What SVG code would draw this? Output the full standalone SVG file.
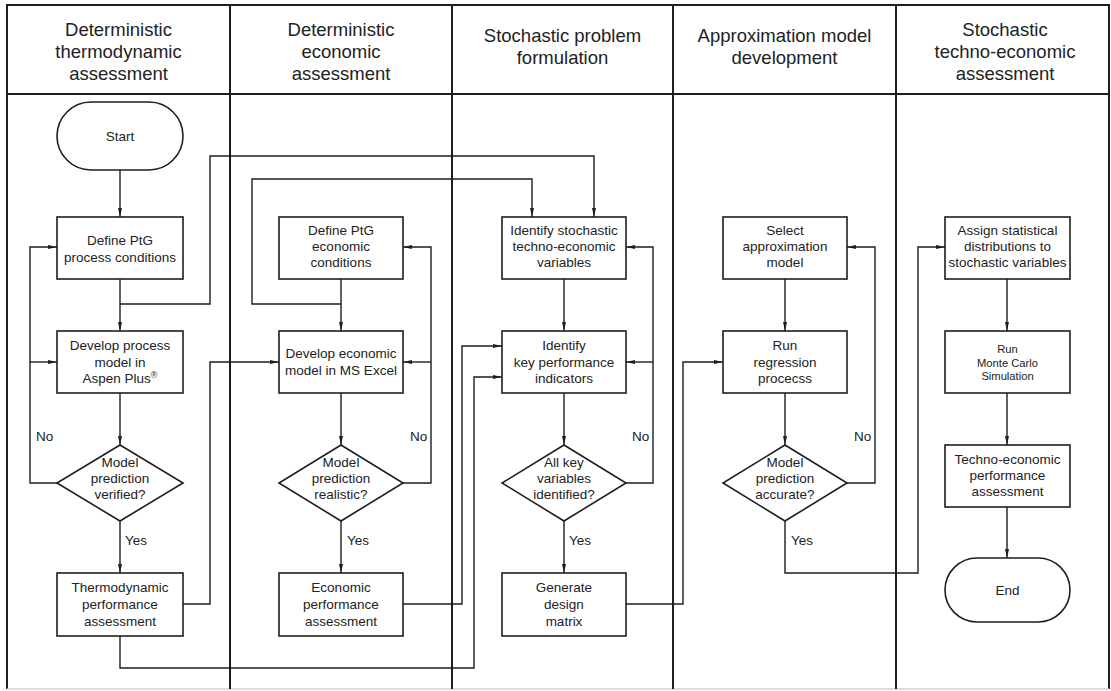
<svg xmlns="http://www.w3.org/2000/svg" width="1111" height="691" viewBox="0 0 1111 691">
<style>
text{font-family:"Liberation Sans",Arial,sans-serif;fill:#222;text-anchor:middle}
.h{font-size:18.5px}
.t{font-size:13.5px}
.s{font-size:11.2px}
.l{font-size:13.5px;text-anchor:start}
.frame{fill:none;stroke:#1e1e1e;stroke-width:2}
.node{fill:#fff;stroke:#1e1e1e;stroke-width:1.6}
.c{fill:none;stroke:#1e1e1e;stroke-width:1.4}
.a{marker-end:url(#arr)}
</style>
<defs>
<marker id="arr" viewBox="0 0 9 4" refX="9" refY="2" markerWidth="9" markerHeight="4" markerUnits="userSpaceOnUse" orient="auto">
<path d="M0,0 L9,2 L0,4 Z" fill="#1e1e1e"/>
</marker>
</defs>
<rect width="1111" height="691" fill="#fff"/>
<g id="frame">
<path class="frame" d="M7,689 V5 H1109 V689"/>
<path d="M7,689 H1109" stroke="#d0d0d0" stroke-width="1.5"/>
<path class="frame" d="M7,94 H1109 M230,5 V689 M452,5 V689 M673,5 V689 M896,5 V689"/>
</g>
<g id="headers">
<text class="h" x="118.5" y="36">Deterministic</text>
<text class="h" x="118.5" y="58">thermodynamic</text>
<text class="h" x="118.5" y="80">assessment</text>
<text class="h" x="341" y="36">Deterministic</text>
<text class="h" x="341" y="58">economic</text>
<text class="h" x="341" y="80">assessment</text>
<text class="h" x="562.5" y="42">Stochastic problem</text>
<text class="h" x="562.5" y="64">formulation</text>
<text class="h" x="784.5" y="42">Approximation model</text>
<text class="h" x="784.5" y="64">development</text>
<text class="h" x="1005" y="36">Stochastic</text>
<text class="h" x="1005" y="58">techno-economic</text>
<text class="h" x="1005" y="80">assessment</text>
</g>
<g id="connectors">
<path class="c a" d="M120,170 V217"/>
<path class="c a" d="M120,279 V331"/>
<path class="c a" d="M120,304 H210 V156 H594 V217"/>
<path class="c a" d="M120,393 V445"/>
<path class="c a" d="M57,483 H30 V247 H57"/>
<path class="c a" d="M30,362 H57"/>
<path class="c a" d="M120,521 V573"/>
<path class="c a" d="M183,604 H210 V362 H279"/>
<path class="c a" d="M120,636 V668 H474 V377 H502"/>
<path class="c a" d="M341,279 V331"/>
<path class="c a" d="M341,304 H252 V179 H532 V217"/>
<path class="c a" d="M341,393 V445"/>
<path class="c a" d="M403,483 H431 V247 H403"/>
<path class="c a" d="M431,362 H403"/>
<path class="c a" d="M341,521 V573"/>
<path class="c a" d="M403,604 H462 V346 H502"/>
<path class="c a" d="M564,279 V331"/>
<path class="c a" d="M564,393 V445"/>
<path class="c a" d="M626,483 H653 V247 H626"/>
<path class="c a" d="M653,362 H626"/>
<path class="c a" d="M564,521 V573"/>
<path class="c a" d="M626,604 H683 V362 H723"/>
<path class="c a" d="M785,279 V331"/>
<path class="c a" d="M785,393 V445"/>
<path class="c a" d="M847,483 H875 V247 H847"/>
<path class="c a" d="M785,521 V573 H918 V247 H945"/>
<path class="c a" d="M1007,279 V331"/>
<path class="c a" d="M1007,393 V445"/>
<path class="c a" d="M1007,507 V558"/>
<text class="l" x="36" y="441">No</text>
<text class="l" x="410" y="441">No</text>
<text class="l" x="632" y="441">No</text>
<text class="l" x="854" y="441">No</text>
<text class="l" x="125" y="545">Yes</text>
<text class="l" x="347" y="545">Yes</text>
<text class="l" x="569" y="545">Yes</text>
<text class="l" x="791" y="545">Yes</text>
</g>
<g id="start">
<rect class="node" x="57" y="102" width="126" height="68" rx="34" ry="34"/>
<text class="t" x="120" y="141">Start</text>
</g>
<g id="define-process">
<rect class="node" x="57" y="217" width="126" height="62"/>
<text class="t" x="120" y="245">Define PtG</text>
<text class="t" x="120" y="262">process conditions</text>
</g>
<g id="develop-process">
<rect class="node" x="57" y="331" width="126" height="62"/>
<text class="t" x="120" y="350">Develop process</text>
<text class="t" x="120" y="366.5">model in</text>
<text class="t" x="120" y="383">Aspen Plus<tspan font-size="9" dy="-5">®</tspan></text>
</g>
<g id="verify-thermo">
<polygon class="node" points="120,445 183,483 120,521 57,483"/>
<text class="t" x="120" y="467">Model</text>
<text class="t" x="120" y="483">prediction</text>
<text class="t" x="120" y="499">verified?</text>
</g>
<g id="thermo-assessment">
<rect class="node" x="57" y="573" width="126" height="63"/>
<text class="t" x="120" y="592">Thermodynamic</text>
<text class="t" x="120" y="609">performance</text>
<text class="t" x="120" y="626">assessment</text>
</g>
<g id="define-economic">
<rect class="node" x="279" y="217" width="124" height="62"/>
<text class="t" x="341" y="235">Define PtG</text>
<text class="t" x="341" y="251">economic</text>
<text class="t" x="341" y="267">conditions</text>
</g>
<g id="develop-economic">
<rect class="node" x="279" y="331" width="124" height="62"/>
<text class="t" x="341" y="358">Develop economic</text>
<text class="t" x="341" y="375">model in MS Excel</text>
</g>
<g id="verify-economic">
<polygon class="node" points="341,445 403,483 341,521 279,483"/>
<text class="t" x="341" y="467">Model</text>
<text class="t" x="341" y="483">prediction</text>
<text class="t" x="341" y="499">realistic?</text>
</g>
<g id="economic-assessment">
<rect class="node" x="279" y="573" width="124" height="63"/>
<text class="t" x="341" y="592">Economic</text>
<text class="t" x="341" y="609">performance</text>
<text class="t" x="341" y="626">assessment</text>
</g>
<g id="identify-variables">
<rect class="node" x="502" y="217" width="124" height="62"/>
<text class="t" x="564" y="235">Identify stochastic</text>
<text class="t" x="564" y="251">techno-economic</text>
<text class="t" x="564" y="267">variables</text>
</g>
<g id="identify-kpi">
<rect class="node" x="502" y="331" width="124" height="62"/>
<text class="t" x="564" y="350">Identify</text>
<text class="t" x="564" y="366.5">key performance</text>
<text class="t" x="564" y="383">indicators</text>
</g>
<g id="verify-variables">
<polygon class="node" points="564,445 626,483 564,521 502,483"/>
<text class="t" x="564" y="467">All key</text>
<text class="t" x="564" y="483">variables</text>
<text class="t" x="564" y="499">identified?</text>
</g>
<g id="design-matrix">
<rect class="node" x="502" y="573" width="124" height="63"/>
<text class="t" x="564" y="592">Generate</text>
<text class="t" x="564" y="609">design</text>
<text class="t" x="564" y="626">matrix</text>
</g>
<g id="select-model">
<rect class="node" x="723" y="217" width="124" height="62"/>
<text class="t" x="785" y="235">Select</text>
<text class="t" x="785" y="251">approximation</text>
<text class="t" x="785" y="267">model</text>
</g>
<g id="run-regression">
<rect class="node" x="723" y="331" width="124" height="62"/>
<text class="t" x="785" y="350">Run</text>
<text class="t" x="785" y="366.5">regression</text>
<text class="t" x="785" y="383">procecss</text>
</g>
<g id="verify-accuracy">
<polygon class="node" points="785,445 847,483 785,521 723,483"/>
<text class="t" x="785" y="467">Model</text>
<text class="t" x="785" y="483">prediction</text>
<text class="t" x="785" y="499">accurate?</text>
</g>
<g id="assign-distributions">
<rect class="node" x="945" y="217" width="125" height="62"/>
<text class="t" x="1007.5" y="235">Assign statistical</text>
<text class="t" x="1007.5" y="251">distributions to</text>
<text class="t" x="1007.5" y="267">stochastic variables</text>
</g>
<g id="monte-carlo">
<rect class="node" x="945" y="331" width="125" height="62"/>
<text class="s" x="1007.5" y="353">Run</text>
<text class="s" x="1007.5" y="366.5">Monte Carlo</text>
<text class="s" x="1007.5" y="380">Simulation</text>
</g>
<g id="techno-economic-assessment">
<rect class="node" x="945" y="445" width="125" height="62"/>
<text class="t" x="1007.5" y="464">Techno-economic</text>
<text class="t" x="1007.5" y="480">performance</text>
<text class="t" x="1007.5" y="496">assessment</text>
</g>
<g id="end">
<rect class="node" x="945" y="558" width="125" height="64" rx="32" ry="32"/>
<text class="t" x="1007.5" y="595">End</text>
</g>
</svg>
